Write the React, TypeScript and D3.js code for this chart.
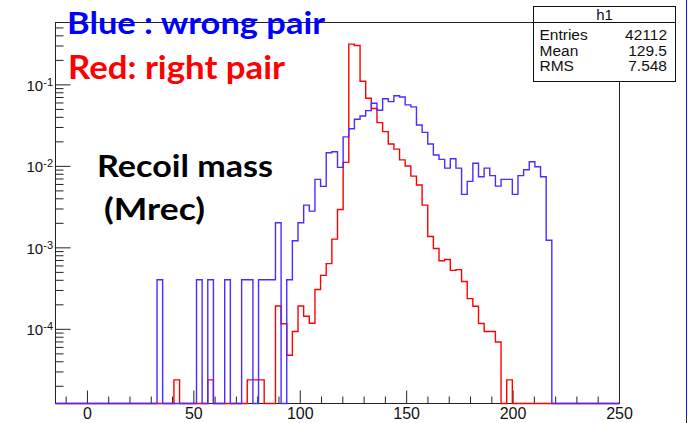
import React from 'react';
import * as d3 from 'd3';

// Histogram binning: 100 equal bins on [-15, 250]
const X_MIN = -15;
const X_MAX = 250;
const N_BINS = 100;

// Log-scale y range of the frame
const Y_MIN = 1.23e-5;
const Y_MAX = 0.583;

// Normalised bin contents, right pair (red)
const rightPair = [
  0, 0, 0, 0, 0, 0, 0, 0, 0, 0,
  0, 0, 0, 0, 0, 0, 0, 0, 0, 0,
  0, 2.4e-5, 0, 0, 0, 0, 0, 2.4e-5, 0, 0,
  0, 0, 0, 0, 2.4e-5, 2.4e-5, 2.4e-5, 0, 0, 1.93e-4,
  1.17e-4, 4.8e-5, 9.4e-5, 1.93e-4, 1.45e-4, 1.19e-4, 3.08e-4, 4.6e-4, 6.4e-4, 1.28e-3,
  2.96e-3, 1.12e-2, 0.316, 0.304, 0.111, 0.0686, 0.0514, 0.0344, 0.0267, 0.0188,
  0.0163, 0.012, 0.0101, 0.0076, 0.0059, 0.00335, 0.00138, 0.00098, 0.000695, 0.00072,
  0.00053, 0.00054, 0.000386, 0.000238, 0.000192, 0.000118, 9.4e-5, 9.4e-5, 7.0e-5, 0,
  2.4e-5, 0, 0, 0, 0, 0, 0, 0, 0, 0,
  0, 0, 0, 0, 0, 0, 0, 0, 0, 0,
];

// Normalised bin contents, wrong pair (blue)
const wrongPair = [
  0, 0, 0, 0, 0, 0, 0, 0, 0, 0,
  0, 0, 0, 0, 0, 0, 0, 0, 4.06e-4, 0,
  0, 0, 0, 0, 0, 4.06e-4, 0, 4.06e-4, 0, 0,
  4.06e-4, 0, 0, 4.06e-4, 4.06e-4, 0, 4.06e-4, 4.06e-4, 4.06e-4, 2.03e-3,
  0, 4.06e-4, 1.22e-3, 2.03e-3, 3.35e-3, 2.82e-3, 6.93e-3, 5.68e-3, 0.0147, 0.0151,
  0.00973, 0.023, 0.0289, 0.0378, 0.0416, 0.0483, 0.0595, 0.0489, 0.0676, 0.0624,
  0.0736, 0.0711, 0.0568, 0.0537, 0.0322, 0.0261, 0.0188, 0.0138, 0.0122, 0.00953,
  0.0124, 0.00953, 0.00453, 0.00655, 0.0109, 0.00745, 0.00953, 0.00771, 0.00573, 0.00693,
  0.00693, 0.00453, 0.00771, 0.0091, 0.0114, 0.00989, 0.00745, 0.00124, 0, 0,
  0, 0, 0, 0, 0, 0, 0, 0, 0, 0,
];

const xMajorTicks = [0, 50, 100, 150, 200, 250];
const yDecades = [-1, -2, -3, -4];

const statsTitle = 'h1';
const statsLabels = ['Entries', 'Mean', 'RMS'];
const statsValues = ['42112', '129.5', '7.548'];

const W = 688;
const H = 423;
const FRAME = { left: 55.5, right: 619.5, top: 22.5, bottom: 403.5 };

const x = d3.scaleLinear().domain([X_MIN, X_MAX]).range([FRAME.left, FRAME.right]);
const y = d3.scaleLog().domain([Y_MIN, Y_MAX]).range([FRAME.bottom, FRAME.top]);

const binWidth = (X_MAX - X_MIN) / N_BINS;

function histPath(values: number[]): string {
  const pts: [number, number][] = [[X_MIN, FRAME.bottom]];
  values.forEach((v, i) => {
    const py = v > Y_MIN ? y(v) : FRAME.bottom;
    pts.push([X_MIN + i * binWidth, py]);
  });
  const last = values[values.length - 1];
  pts.push([X_MAX, last > Y_MIN ? y(last) : FRAME.bottom]);
  pts.push([X_MAX, FRAME.bottom]);
  const line = d3
    .line<[number, number]>()
    .x((d) => x(d[0]))
    .y((d) => d[1])
    .curve(d3.curveStepAfter);
  return line(pts) || '';
}

const AXIS_FONT = '"Liberation Sans", Arial, Helvetica, sans-serif';
const TITLE_FONT = 'Lato, "Open Sans", sans-serif';

export default function App() {
  const xTicks = d3.range(-10, 251, 10);
  const yMinor: number[] = [];
  for (let d = -5; d <= -1; d++) {
    for (let m = 2; m <= 9; m++) {
      const v = m * Math.pow(10, d);
      if (v >= Y_MIN && v <= Y_MAX) yMinor.push(v);
    }
  }

  const box = { x: 533.5, y: 6.5, w: 142, h: 75 };

  return (
    <svg
      width={W}
      height={H}
      style={{ position: 'absolute', left: 0, top: 0, background: '#fff' }}
    >
      <rect x={0} y={0} width={W} height={H} fill="#fff" />

      {/* frame */}
      <rect
        x={FRAME.left}
        y={FRAME.top}
        width={FRAME.right - FRAME.left}
        height={FRAME.bottom - FRAME.top}
        fill="none"
        stroke="#222"
        strokeWidth={1}
      />

      {/* x ticks */}
      {xTicks.map((t) => {
        const major = t % 50 === 0;
        return (
          <line
            key={`xt${t}`}
            x1={x(t)}
            x2={x(t)}
            y1={FRAME.bottom}
            y2={FRAME.bottom - (major ? 13 : 7)}
            stroke="#222"
          />
        );
      })}
      {xMajorTicks.map((t) => (
        <text
          key={`xl${t}`}
          x={x(t)}
          y={419}
          textAnchor="middle"
          fontSize={16}
          fontFamily={AXIS_FONT}
          fill="#111"
        >
          {t}
        </text>
      ))}

      {/* y ticks */}
      {yMinor.map((v, i) => (
        <line
          key={`ym${i}`}
          x1={FRAME.left}
          x2={FRAME.left + 8}
          y1={y(v)}
          y2={y(v)}
          stroke="#222"
        />
      ))}
      {yDecades.map((d) => {
        const ty = y(Math.pow(10, d));
        return (
          <g key={`yd${d}`}>
            <line x1={FRAME.left} x2={FRAME.left + 15} y1={ty} y2={ty} stroke="#222" />
            <text
              x={53}
              y={ty + 6}
              textAnchor="end"
              fontSize={15}
              fontFamily={AXIS_FONT}
              fill="#111"
            >
              10
              <tspan fontSize={11} dy={-5}>
                {String(d)}
              </tspan>
            </text>
          </g>
        );
      })}

      {/* histograms */}
      <path d={histPath(rightPair)} fill="none" stroke="#ff0000" strokeWidth={1.4} />
      <path d={histPath(wrongPair)} fill="none" stroke="#4a2cff" strokeWidth={1.4} />

      {/* statistics box */}
      <rect x={box.x} y={box.y} width={box.w} height={box.h} fill="#fff" stroke="#111" />
      <line x1={box.x} x2={box.x + box.w} y1={22.5} y2={22.5} stroke="#111" />
      <text
        x={box.x + box.w / 2}
        y={19.5}
        textAnchor="middle"
        fontSize={15}
        fontFamily={AXIS_FONT}
        fill="#111"
      >
        {statsTitle}
      </text>
      {statsLabels.map((lab, i) => (
        <g key={lab}>
          <text x={539.5} y={40 + i * 15.7} fontSize={15.5} fontFamily={AXIS_FONT} fill="#111">
            {lab}
          </text>
          <text
            x={667}
            y={40 + i * 15.7}
            textAnchor="end"
            fontSize={15.5}
            fontFamily={AXIS_FONT}
            fill="#111"
          >
            {statsValues[i]}
          </text>
        </g>
      ))}

      {/* annotations */}
      <text
        x={67}
        y={33.5}
        fontSize={30}
        fontWeight="bold"
        fontFamily={TITLE_FONT}
        fill="#0000ff"
        textLength={258}
        lengthAdjust="spacingAndGlyphs"
      >
        Blue : wrong pair
      </text>
      <text
        x={68}
        y={79}
        fontSize={33}
        fontWeight="bold"
        fontFamily={TITLE_FONT}
        fill="#ff0000"
        textLength={217}
        lengthAdjust="spacingAndGlyphs"
      >
        Red: right pair
      </text>
      <text
        x={97}
        y={176.5}
        fontSize={30}
        fontWeight="bold"
        fontFamily={TITLE_FONT}
        fill="#000"
        textLength={176}
        lengthAdjust="spacingAndGlyphs"
      >
        Recoil mass
      </text>
      <text
        x={104}
        y={220}
        fontSize={30}
        fontWeight="bold"
        fontFamily={TITLE_FONT}
        fill="#000"
        textLength={101}
        lengthAdjust="spacingAndGlyphs"
      >
        (Mrec)
      </text>

      {/* edge line at the right border */}
      <line x1={686.5} x2={686.5} y1={0} y2={415} stroke="#1010e0" strokeWidth={1} />
      <line x1={686.5} x2={686.5} y1={415} y2={423} stroke="#222" strokeWidth={1} />
    </svg>
  );
}
